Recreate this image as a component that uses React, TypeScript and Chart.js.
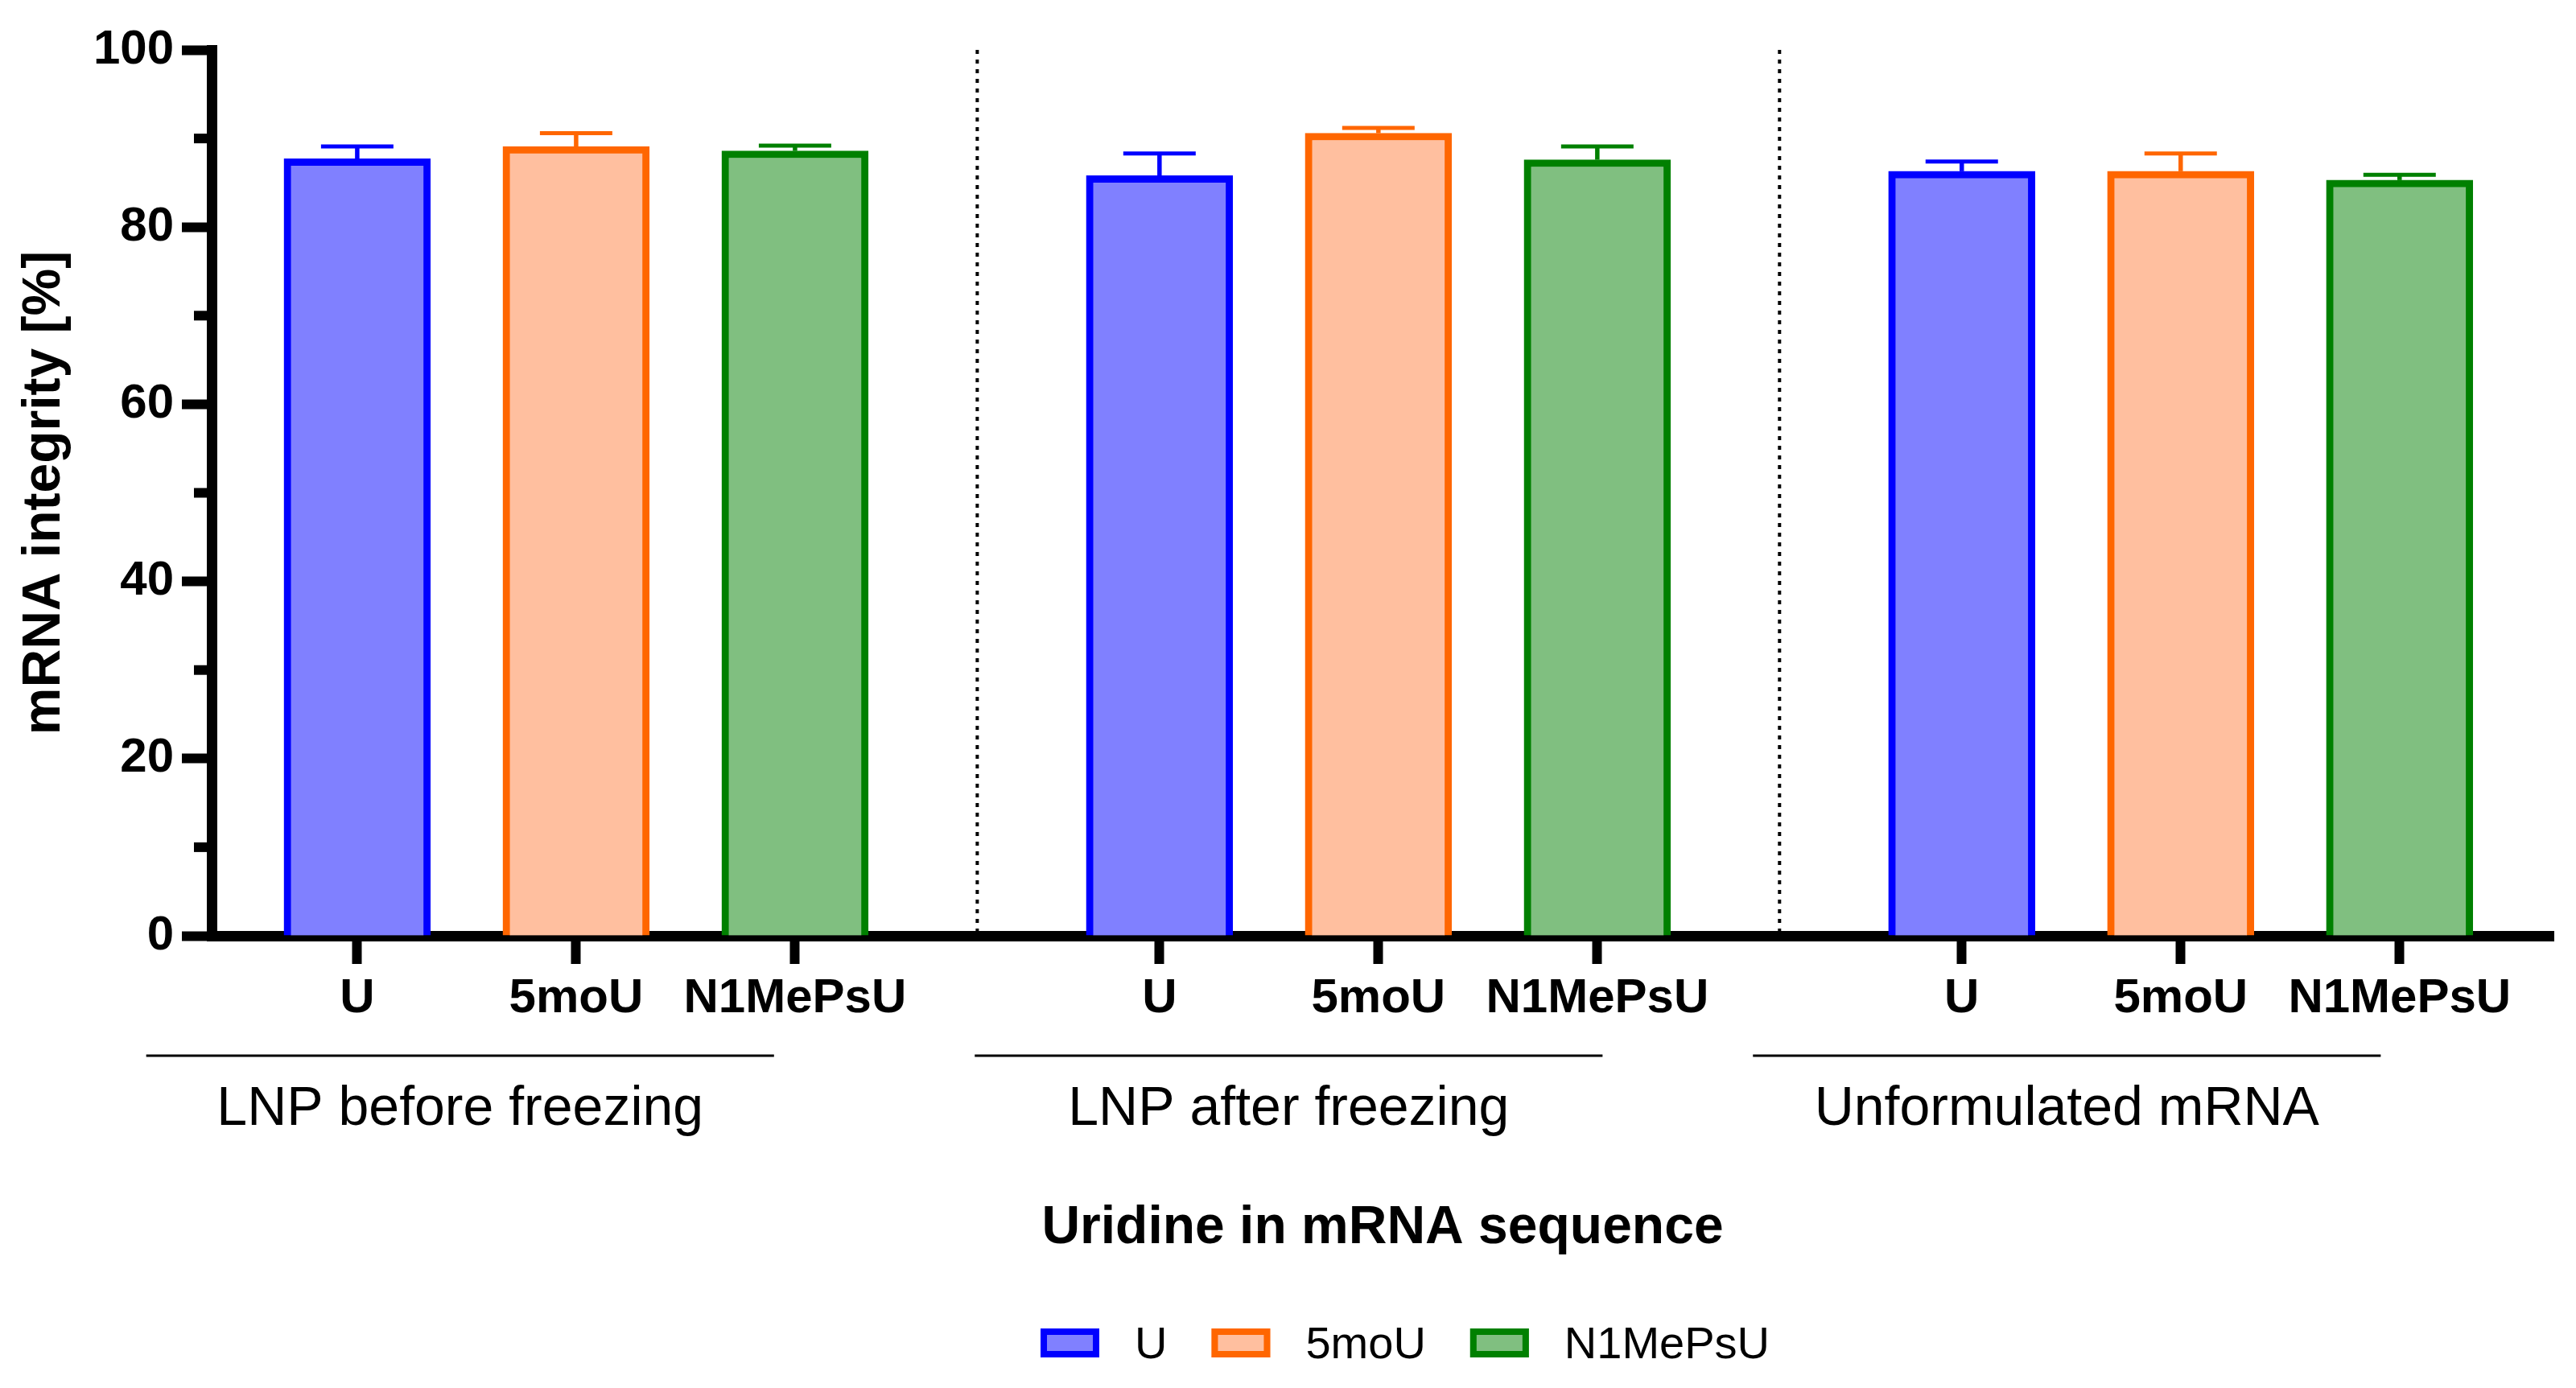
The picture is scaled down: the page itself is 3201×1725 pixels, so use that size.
import React, { useEffect, useRef } from "react";
import { Chart, registerables } from "chart.js";

Chart.register(...registerables);

// ---------- data ----------
const groups = ["LNP before freezing", "LNP after freezing", "Unformulated mRNA"];
const series = ["U", "5moU", "N1MePsU"];
const meanU = [87.7, 85.8, 86.3];
const mean5moU = [89.1, 90.6, 86.3];
const meanN1MePsU = [88.6, 87.6, 85.3];
const sdU = [1.4, 2.5, 1.1];
const sd5moU = [1.5, 0.6, 2.0];
const sdN1MePsU = [0.6, 1.5, 0.6];
const yMajorTicks = [0, 20, 40, 60, 80, 100];
const yMinorTicks = [10, 30, 50, 70, 90];
const xTitle = "Uridine in mRNA sequence";
const yTitle = "mRNA integrity [%]";

// ---------- styles / layout ----------
const FONT = "'Liberation Sans', Arial, sans-serif";
const borderColors = ["#0000ff", "#ff6600", "#008000"];
const fillColors = ["#8080ff", "#ffbf9f", "#80bf80"];
const GROUP_STEP = 3.665;
const X_MIN = -0.665;
const X_MAX = 10.033;
const labelCenterOffsets = [-0.53, -0.41, -0.52];
const LABEL_HALF_LINE = 1.434;
const LEGEND_CX = 1746;

const means = [meanU, mean5moU, meanN1MePsU];
const sds = [sdU, sd5moU, sdN1MePsU];
const xPos = (g: number, j: number) => g * GROUP_STEP + j;

const extras = {
  id: "extras",
  beforeDatasetsDraw(chart: any) {
    const { ctx, chartArea } = chart;
    const xs = chart.scales.x;
    ctx.save();
    ctx.strokeStyle = "#000";
    ctx.lineWidth = 4;
    ctx.setLineDash([5, 7]);
    for (let g = 0; g < groups.length - 1; g++) {
      const v = g * GROUP_STEP + (2 + GROUP_STEP) / 2;
      const px = xs.getPixelForValue(v);
      ctx.beginPath();
      ctx.moveTo(px, chartArea.top);
      ctx.lineTo(px, chartArea.bottom);
      ctx.stroke();
    }
    ctx.restore();
  },
  afterDatasetsDraw(chart: any) {
    const { ctx } = chart;
    const ys = chart.scales.y;
    ctx.save();
    chart.data.datasets.forEach((ds: any, i: number) => {
      const meta = chart.getDatasetMeta(i);
      meta.data.forEach((el: any, j: number) => {
        const m = means[i][j];
        const s = sds[i][j];
        const y0 = ys.getPixelForValue(m);
        const y1 = ys.getPixelForValue(m + s);
        ctx.strokeStyle = borderColors[i];
        ctx.lineWidth = 5.5;
        ctx.beginPath();
        ctx.moveTo(el.x, y0);
        ctx.lineTo(el.x, y1);
        ctx.stroke();
        ctx.lineWidth = 5;
        ctx.beginPath();
        ctx.moveTo(el.x - 45, y1);
        ctx.lineTo(el.x + 45, y1);
        ctx.stroke();
      });
    });
    ctx.restore();
  },
  afterDraw(chart: any) {
    const { ctx, chartArea } = chart;
    const xs = chart.scales.x;
    const ys = chart.scales.y;
    ctx.save();
    // minor y ticks
    ctx.strokeStyle = "#000";
    ctx.lineWidth = 12;
    yMinorTicks.forEach((v) => {
      const py = ys.getPixelForValue(v);
      ctx.beginPath();
      ctx.moveTo(chartArea.left, py);
      ctx.lineTo(chartArea.left - 22, py);
      ctx.stroke();
    });
    // group labels with lines
    ctx.fillStyle = "#000";
    ctx.font = `68px ${FONT}`;
    ctx.textAlign = "center";
    ctx.textBaseline = "alphabetic";
    groups.forEach((name, g) => {
      const c = xPos(g, 1) + labelCenterOffsets[g];
      const cx = xs.getPixelForValue(c);
      const x1 = xs.getPixelForValue(c - LABEL_HALF_LINE);
      const x2 = xs.getPixelForValue(c + LABEL_HALF_LINE);
      ctx.lineWidth = 3;
      ctx.beginPath();
      ctx.moveTo(x1, 1312);
      ctx.lineTo(x2, 1312);
      ctx.stroke();
      ctx.fillText(name, cx, 1398);
    });
    // legend
    ctx.font = `56px ${FONT}`;
    ctx.textAlign = "left";
    const boxW = 73, boxH = 36, gapText = 44, gapItem = 55, bw = 8;
    const widths = series.map((s) => ctx.measureText(s).width);
    const total = widths.reduce((a, w) => a + boxW + gapText + w, 0) + gapItem * (series.length - 1);
    let x = LEGEND_CX - total / 2;
    const boxTop = 1651;
    series.forEach((s, i) => {
      ctx.fillStyle = fillColors[i];
      ctx.fillRect(x, boxTop, boxW, boxH);
      ctx.strokeStyle = borderColors[i];
      ctx.lineWidth = bw;
      ctx.strokeRect(x + bw / 2, boxTop + bw / 2, boxW - bw, boxH - bw);
      ctx.fillStyle = "#000";
      ctx.fillText(s, x + boxW + gapText, 1688);
      x += boxW + gapText + widths[i] + gapItem;
    });
    ctx.restore();
  },
};

export default function App() {
  const ref = useRef<HTMLCanvasElement | null>(null);
  useEffect(() => {
    document.body.style.margin = "0";
    Chart.defaults.font.family = FONT;
    const datasets = series.map((name, i) => ({
      label: name,
      data: means[i].map((v, g) => ({ x: xPos(g, i), y: v })),
      backgroundColor: fillColors[i],
      borderColor: borderColors[i],
      borderWidth: 9,
      barThickness: 182,
      grouped: false,
    }));
    const tickValues: number[] = [];
    groups.forEach((_, g) => series.forEach((_, j) => tickValues.push(xPos(g, j))));
    const chart = new Chart(ref.current as HTMLCanvasElement, {
      type: "bar",
      data: { datasets },
      plugins: [extras],
      options: {
        animation: false,
        responsive: false,
        devicePixelRatio: 1,
        layout: { padding: { left: 0, top: 62, right: 28, bottom: 0 } },
        plugins: { legend: { display: false }, tooltip: { enabled: false } },
        scales: {
          x: {
            type: "linear",
            min: X_MIN,
            max: X_MAX,
            offset: false,
            z: 1,
            afterFit: (s: any) => {
              s.height = 562;
            },
            afterBuildTicks: (s: any) => {
              s.ticks = tickValues.map((v) => ({ value: v }));
            },
            ticks: {
              autoSkip: false,
              maxRotation: 0,
              padding: 7,
              color: "#000",
              font: { size: 60, weight: "bold", family: FONT },
              callback: (_v: any, idx: number) => series[idx % series.length],
            },
            grid: { offset: false, drawOnChartArea: false, tickLength: 35, tickWidth: 12, tickColor: "#000" },
            border: { display: true, width: 13, color: "#000" },
            title: {
              display: true,
              text: xTitle,
              color: "#000",
              font: { size: 66, weight: "bold", family: FONT, lineHeight: 1.2 },
              padding: { top: 0, bottom: 159 },
            },
          },
          y: {
            min: 0,
            max: 100,
            z: 1,
            afterFit: (s: any) => {
              s.width = 263;
            },
            afterBuildTicks: (s: any) => {
              s.ticks = yMajorTicks.map((v) => ({ value: v }));
            },
            ticks: {
              padding: 10,
              color: "#000",
              font: { size: 60, weight: "bold", family: FONT },
            },
            grid: { offset: false, drawOnChartArea: false, tickLength: 37, tickWidth: 12, tickColor: "#000" },
            border: { display: true, width: 13, color: "#000" },
            title: {
              display: true,
              text: yTitle,
              color: "#000",
              font: { size: 66, weight: "bold", family: FONT, lineHeight: 1.2 },
              padding: { top: 16, bottom: 0 },
            },
          },
        },
      } as any,
    });
    return () => chart.destroy();
  }, []);
  return (
    <div style={{ width: 3201, height: 1725, background: "#fff" }}>
      <canvas ref={ref} width={3201} height={1725} style={{ display: "block", width: 3201, height: 1725 }} />
    </div>
  );
}
